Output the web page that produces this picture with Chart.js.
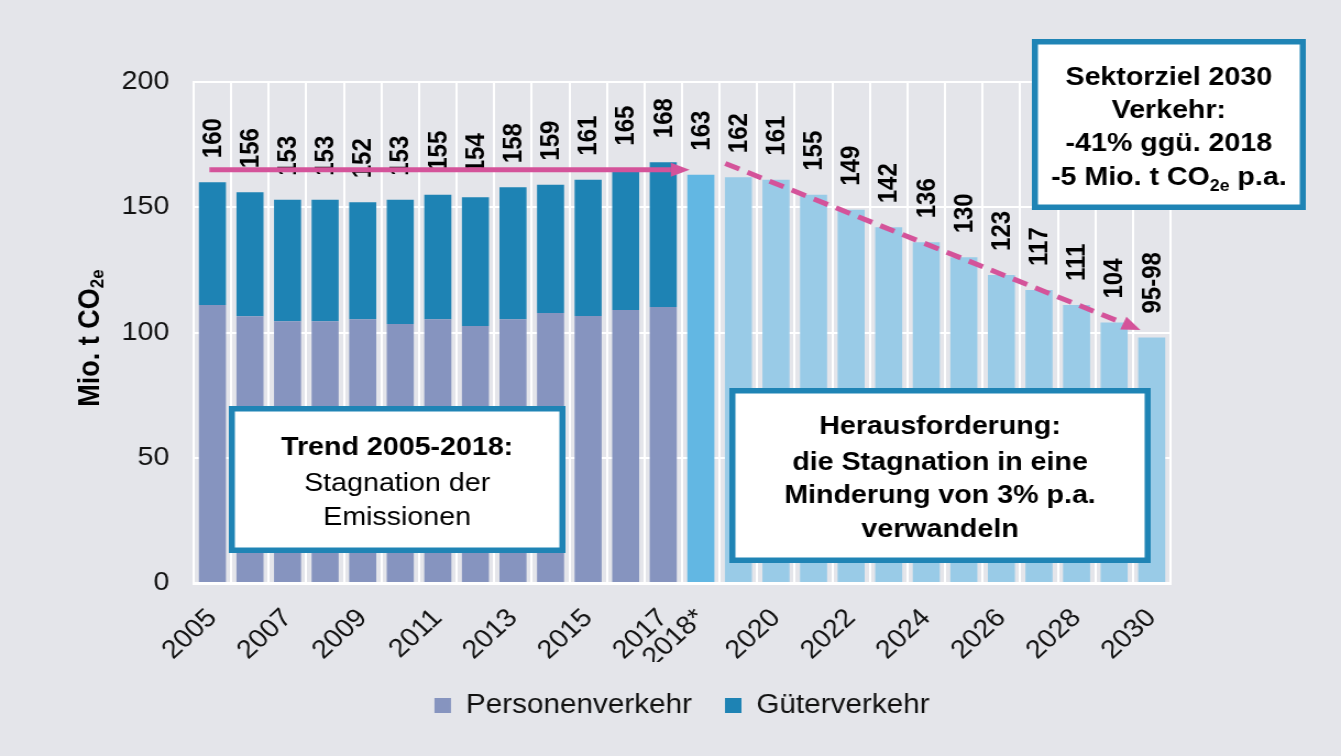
<!DOCTYPE html>
<html>
<head>
<meta charset="utf-8">
<script src="https://cdn.jsdelivr.net/npm/chart.js@4"></script>
<style>
  html, body { margin: 0; padding: 0; background: #e4e5ea; overflow: hidden; }
  canvas { display: block; }
</style>
</head>
<body>
<!-- drawn narrower and stretched, like the source slide -->
<canvas id="co2Chart" width="1219" height="756" style="width:1341px;height:756px"></canvas>
<script>
"use strict"

// DATA -----------------------
const years = [
	"2005", "2006", "2007", "2008", "2009", "2010", "2011", "2012", "2013",
	"2014", "2015", "2016", "2017", "2018*", "2019", "2020", "2021", "2022",
	"2023", "2024", "2025", "2026", "2027", "2028", "2029", "2030",
]
const shownTicks = [
	"2005", "2007", "2009", "2011", "2013", "2015", "2017", "2018*",
	"2020", "2022", "2024", "2026", "2028", "2030",
]

// 2005-2017
const personen = [111, 106.5, 104.5, 104.5, 105.3, 103.4, 105.3, 102.6, 105.3, 107.8, 106.6, 109, 110.2]
const gueter = [49, 49.5, 48.5, 48.5, 46.7, 49.6, 49.7, 51.4, 52.7, 51.2, 54.4, 56, 57.8]
const totalLabels = ["160", "156", "153", "153", "152", "153", "155", "154", "158", "159", "161", "165", "168"]

// 2018* - 2030
const projection = [163, 162, 161, 155, 149, 142, 136, 130, 123, 117, 111, 104, 98]
const projLabels = ["163", "162", "161", "155", "149", "142", "136", "130", "123", "117", "111", "104", "95-98"]

const yTicks = [0, 50, 100, 150, 200]

// arrows in data space [index, value]
const trendArrow = { from: [-0.08, 165], to: [12.7, 165], dashed: false }
const targetArrow = { from: [13.65, 167.5], to: [24.7, 101], dashed: true }

// COLORS -----------------------
const colPersonen = "#8694bf"
const colGueter = "#1e83b4"
const col2018 = "#62b7e3"
const colProj = "#99cbe7"
const colPink = "#d4539a"
const colBox = "#1f84b5"
const FONT = "'Liberation Sans', Arial, sans-serif"

Chart.defaults.font.family = FONT

const nHist = personen.length
const pad = (n) => Array(n).fill(null)

const projColors = projection.map((v, i) => (i == 0 ? col2018 : colProj))

// text boxes (canvas pixels)
const boxes = [
	{
		x: 208, y: 406, w: 306, h: 147,
		lines: [
			{ y: 455, runs: [{ t: "Trend 2005-2018:", bold: true }] },
			{ y: 491, runs: [{ t: "Stagnation der" }] },
			{ y: 525, runs: [{ t: "Emissionen" }] },
		],
	},
	{
		x: 663, y: 388, w: 383, h: 175,
		lines: [
			{ y: 434, runs: [{ t: "Herausforderung:", bold: true }] },
			{ y: 470, runs: [{ t: "die Stagnation in eine", bold: true }] },
			{ y: 503, runs: [{ t: "Minderung von 3% p.a.", bold: true }] },
			{ y: 537, runs: [{ t: "verwandeln", bold: true }] },
		],
	},
	{
		x: 938, y: 39, w: 249, h: 171,
		lines: [
			{ y: 85, runs: [{ t: "Sektorziel 2030", bold: true }] },
			{ y: 118, runs: [{ t: "Verkehr:", bold: true }] },
			{ y: 151, runs: [{ t: "-41% ggü. 2018", bold: true }] },
			{ y: 185, runs: [{ t: "-5 Mio. t CO", bold: true }, { t: "2e", bold: true, sub: true }, { t: " p.a.", bold: true }] },
		],
	},
]

// FUNCTIONS -----------------------
function runFont(r, size) {
	return (r.bold ? "bold " : "") + (r.sub ? Math.round(size * 0.62) : size) + "px " + FONT
}

function drawRuns(ctx, runs, cx, y, size) {
	let total = 0
	runs.forEach((r) => {
		ctx.font = runFont(r, size)
		r.w = ctx.measureText(r.t).width
		total += r.w
	})
	let x = cx - total / 2
	ctx.textAlign = "left"
	runs.forEach((r) => {
		ctx.font = runFont(r, size)
		ctx.fillText(r.t, x, r.sub ? y + size * 0.22 : y)
		x += r.w
	})
}

function drawArrow(ctx, chart, a) {
	const xs = chart.scales.x
	const ys = chart.scales.y
	const x1 = xs.getPixelForValue(a.from[0])
	const y1 = ys.getPixelForValue(a.from[1])
	const x2 = xs.getPixelForValue(a.to[0])
	const y2 = ys.getPixelForValue(a.to[1])
	const ang = Math.atan2(y2 - y1, x2 - x1)
	const headL = 17
	const headW = 7
	const bx = x2 - headL * Math.cos(ang)
	const by = y2 - headL * Math.sin(ang)

	ctx.save()
	ctx.strokeStyle = colPink
	ctx.fillStyle = colPink
	ctx.lineWidth = 5
	ctx.setLineDash(a.dashed ? [14, 8] : [])
	ctx.beginPath()
	ctx.moveTo(x1, y1)
	ctx.lineTo(bx, by)
	ctx.stroke()
	ctx.setLineDash([])
	ctx.beginPath()
	ctx.moveTo(x2, y2)
	ctx.lineTo(bx + headW * Math.sin(ang), by - headW * Math.cos(ang))
	ctx.lineTo(bx - headW * Math.sin(ang), by + headW * Math.cos(ang))
	ctx.closePath()
	ctx.fill()
	ctx.restore()
}

const overlayPlugin = {
	id: "overlay",
	afterDatasetsDraw(chart) {
		const ctx = chart.ctx
		const xs = chart.scales.x
		const ys = chart.scales.y

		// value labels on top of the bars
		ctx.save()
		ctx.fillStyle = "#000"
		ctx.font = "bold 24px " + FONT
		ctx.textAlign = "left"
		ctx.textBaseline = "middle"
		for (let i = 0; i < years.length; i++) {
			let top, txt
			if (i < nHist) {
				top = personen[i] + gueter[i]
				txt = totalLabels[i]
			} else {
				top = projection[i - nHist]
				txt = projLabels[i - nHist]
			}
			ctx.save()
			ctx.translate(xs.getPixelForValue(i) + 1, ys.getPixelForValue(top) - 24)
			ctx.rotate(-Math.PI / 2)
			ctx.fillText(txt, 0, 0)
			ctx.restore()
		}
		ctx.restore()

		drawArrow(ctx, chart, trendArrow)
		drawArrow(ctx, chart, targetArrow)

		// text boxes
		boxes.forEach((b) => {
			ctx.save()
			ctx.fillStyle = "#fff"
			ctx.fillRect(b.x, b.y, b.w, b.h)
			ctx.strokeStyle = colBox
			ctx.lineWidth = 5.5
			ctx.strokeRect(b.x + 2.75, b.y + 2.75, b.w - 5.5, b.h - 5.5)
			ctx.fillStyle = "#000"
			ctx.textBaseline = "alphabetic"
			b.lines.forEach((l) => drawRuns(ctx, l.runs, b.x + b.w / 2, l.y, 26))
			ctx.restore()
		})

		// y axis title with subscript
		ctx.save()
		ctx.fillStyle = "#000"
		ctx.translate(83, 338)
		ctx.rotate(-Math.PI / 2)
		ctx.textBaseline = "middle"
		drawRuns(ctx, [{ t: "Mio. t CO", bold: true }, { t: "2e", bold: true, sub: true }], 0, 0, 27)
		ctx.restore()
	},
}

// CHART -----------------------
const co2Chart = new Chart(document.getElementById("co2Chart").getContext("2d"), {
	type: "bar",
	data: {
		labels: years,
		datasets: [
			{
				label: "Personenverkehr",
				data: personen.concat(pad(projection.length)),
				backgroundColor: colPersonen,
				borderWidth: 0,
			},
			{
				label: "Güterverkehr",
				data: gueter.concat(pad(projection.length)),
				backgroundColor: colGueter,
				borderWidth: 0,
			},
			{
				label: "Projektion",
				data: pad(nHist).concat(projection),
				backgroundColor: pad(nHist).map(() => colProj).concat(projColors),
				borderWidth: 0,
			},
		],
	},
	options: {
		responsive: false,
		animation: false,
		devicePixelRatio: 1,
		layout: { padding: { top: 82, right: 155, bottom: 27, left: 0 } },
		plugins: {
			legend: {
				position: "bottom",
				fullSize: false,
				labels: {
					color: "#111",
					font: { size: 27 },
					boxWidth: 15,
					boxHeight: 15,
					padding: 30,
					filter: (item) => item.datasetIndex < 2,
				},
			},
			tooltip: { enabled: false },
		},
		scales: {
			x: {
				stacked: true,
				grid: { color: "#fff", lineWidth: 2, drawTicks: false, offset: true },
				border: { color: "#fff", width: 3 },
				ticks: {
					autoSkip: false,
					minRotation: 45,
					maxRotation: 45,
					padding: 20,
					color: "#111",
					font: { size: 26 },
					callback: (v, i) => (shownTicks.includes(years[i]) ? years[i] : ""),
				},
				afterFit: (s) => {
					s.height = 79
				},
			},
			y: {
				stacked: true,
				min: yTicks[0],
				max: yTicks[yTicks.length - 1],
				afterBuildTicks: (s) => {
					s.ticks = yTicks.map((v) => ({ value: v }))
				},
				grid: { color: "#fff", lineWidth: 2, drawTicks: false },
				border: { color: "#fff", width: 2 },
				ticks: { padding: 22, color: "#111", font: { size: 26 } },
				afterFit: (s) => {
					s.width = 176
				},
			},
		},
	},
	plugins: [overlayPlugin],
})
</script>
</body>
</html>
